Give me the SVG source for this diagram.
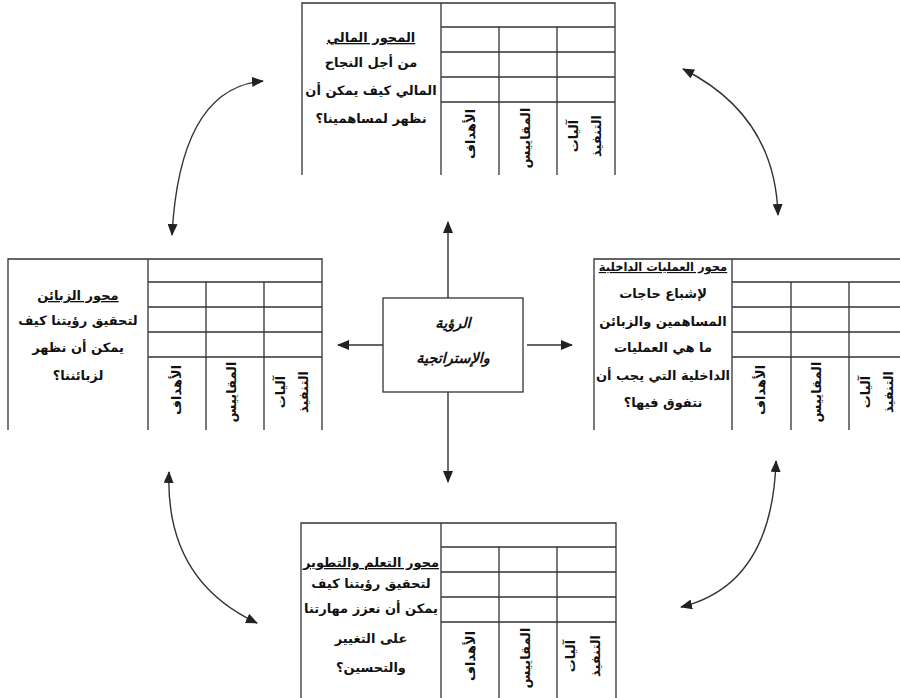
<svg xmlns="http://www.w3.org/2000/svg" width="900" height="698" viewBox="0 0 900 698">
<style>
  .ln{fill:none;stroke:#333;stroke-width:1.3}
  .tx{font-family:"DejaVu Sans",sans-serif;font-weight:bold;font-size:13px;fill:#111;text-anchor:middle}
  .tt{text-decoration:underline}
  .hd{font-family:"DejaVu Sans",sans-serif;font-weight:bold;font-size:13px;fill:#111;text-anchor:middle}
  .ctr{font-family:"DejaVu Sans",sans-serif;font-weight:bold;font-style:italic;font-size:14.5px;fill:#111;text-anchor:middle}
  .ar{fill:none;stroke:#333;stroke-width:1.4}
</style>
<defs>
  <marker id="ah" markerUnits="userSpaceOnUse" markerWidth="12" markerHeight="10" refX="11" refY="5" orient="auto-start-reverse" viewBox="0 0 12 10">
    <path d="M0,0 L12,5 L0,10 z" fill="#222"/>
  </marker>
</defs>
<rect width="900" height="698" fill="#fff"/>

<g id="top-financial">
  <path class="ln" d="M302,175 V3 H615 V175 M441,3 V175 M499,27 V175 M557,27 V175 M441,27 H615 M441,52 H615 M441,77 H615 M441,102 H615"/>
  <text class="tx tt" x="371" y="42">المحور المالي</text>
  <text class="tx" x="371" y="67">من أجل النجاح</text>
  <text class="tx" x="371" y="95">المالي كيف يمكن أن</text>
  <text class="tx" x="371" y="123">نظهر لمساهمينا؟</text>
  <text class="hd" transform="translate(475,134) rotate(-90)">الأهداف</text>
  <text class="hd" transform="translate(530,138) rotate(-90)">المقاييس</text>
  <text class="hd" transform="translate(578,136) rotate(-90)">آليات</text>
  <text class="hd" transform="translate(601,136) rotate(-90)">التنفيذ</text>
</g>

<g id="left-customers">
  <path class="ln" d="M8,430 V259 H322 V430 M148,259 V430 M206,282 V430 M264,282 V430 M148,282 H322 M148,307 H322 M148,332 H322 M148,357 H322"/>
  <text class="tx tt" x="78" y="300">محور الزبائن</text>
  <text class="tx" x="78" y="325">لتحقيق رؤيتنا كيف</text>
  <text class="tx" x="78" y="352">يمكن أن نظهر</text>
  <text class="tx" x="78" y="380">لزبائننا؟</text>
  <text class="hd" transform="translate(181,390) rotate(-90)">الأهداف</text>
  <text class="hd" transform="translate(236,392) rotate(-90)">المقاييس</text>
  <text class="hd" transform="translate(285,392) rotate(-90)">آليات</text>
  <text class="hd" transform="translate(308,392) rotate(-90)">التنفيذ</text>
</g>

<g id="right-internal">
  <path class="ln" d="M594,430 V259 H907 V430 M732,259 V430 M791,282 V430 M849,282 V430 M732,282 H907 M732,307 H907 M732,332 H907 M732,357 H907"/>
  <text class="tx tt" x="663" y="271" style="font-size:11.5px">محور العمليات الداخلية</text>
  <text class="tx" x="663" y="298">لإشباع حاجات</text>
  <text class="tx" x="663" y="326">المساهمين والزبائن</text>
  <text class="tx" x="663" y="352">ما هي العمليات</text>
  <text class="tx" x="663" y="380">الداخلية التي يجب أن</text>
  <text class="tx" x="663" y="407">نتفوق فيها؟</text>
  <text class="hd" transform="translate(765,390) rotate(-90)">الأهداف</text>
  <text class="hd" transform="translate(821,392) rotate(-90)">المقاييس</text>
  <text class="hd" transform="translate(870,392) rotate(-90)">آليات</text>
  <text class="hd" transform="translate(893,392) rotate(-90)">التنفيذ</text>
</g>

<g id="bottom-learning">
  <path class="ln" d="M301,698 V523 H616 V698 M441,523 V698 M499,547 V698 M557,547 V698 M441,547 H616 M441,572 H616 M441,597 H616 M441,622 H616"/>
  <text class="tx tt" x="371" y="567">محور التعلم والتطوير</text>
  <text class="tx" x="371" y="588">لتحقيق رؤيتنا كيف</text>
  <text class="tx" x="371" y="613">يمكن أن نعزز مهارتنا</text>
  <text class="tx" x="371" y="643">على التغيير</text>
  <text class="tx" x="371" y="672">والتحسين؟</text>
  <text class="hd" transform="translate(475,656) rotate(-90)">الأهداف</text>
  <text class="hd" transform="translate(530,658) rotate(-90)">المقاييس</text>
  <text class="hd" transform="translate(575,656) rotate(-90)">آليات</text>
  <text class="hd" transform="translate(600,656) rotate(-90)">التنفيذ</text>
</g>

<g id="center-vision">
  <rect class="ln" x="383" y="298" width="140" height="94"/>
  <text class="ctr" x="453" y="328">الرؤية</text>
  <text class="ctr" x="453" y="363">والإستراتجية</text>
</g>

<g id="connectors">
  <line class="ar" x1="448" y1="298" x2="448" y2="222" marker-end="url(#ah)"/>
  <line class="ar" x1="448" y1="392" x2="448" y2="482" marker-end="url(#ah)"/>
  <line class="ar" x1="383" y1="345" x2="338" y2="345" marker-end="url(#ah)"/>
  <line class="ar" x1="527" y1="345" x2="572" y2="345" marker-end="url(#ah)"/>
  <path class="ar" d="M263,81 Q180,88 172,235" marker-start="url(#ah)" marker-end="url(#ah)"/>
  <path class="ar" d="M683,69 Q775,115 778,215" marker-start="url(#ah)" marker-end="url(#ah)"/>
  <path class="ar" d="M169,472 Q165,580 257,623" marker-start="url(#ah)" marker-end="url(#ah)"/>
  <path class="ar" d="M776,461 Q772,585 681,607" marker-start="url(#ah)" marker-end="url(#ah)"/>
</g>
</svg>
